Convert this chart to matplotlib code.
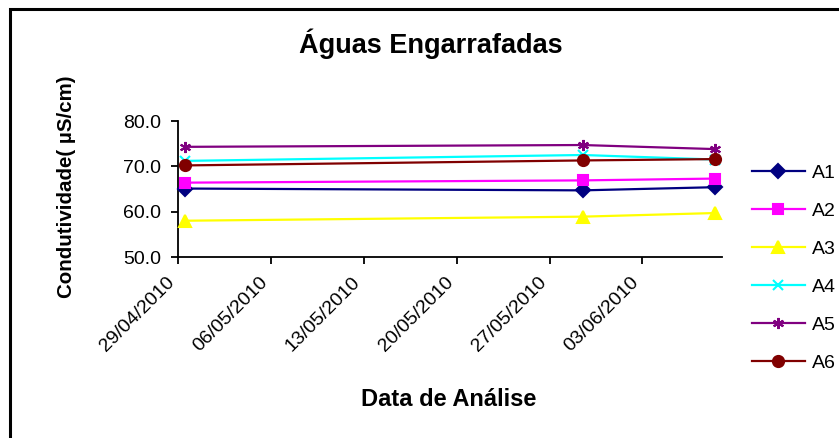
import matplotlib
matplotlib.use("Agg")
import matplotlib.pyplot as plt
import matplotlib.dates as mdates
from matplotlib.patches import Rectangle
import datetime as dt

plt.rcParams['font.family'] = ['Liberation Sans', 'DejaVu Sans']

# ---- data ----
dates = ["2010-04-29", "2010-05-29", "2010-06-08"]
series_names = ["A1", "A2", "A3", "A4", "A5", "A6"]
A1 = [65.1, 64.7, 65.4]
A2 = [66.4, 66.9, 67.3]
A3 = [58.0, 58.9, 59.7]
A4 = [71.2, 72.5, 71.5]
A5 = [74.3, 74.7, 73.8]
A6 = [70.2, 71.3, 71.6]
values = [A1, A2, A3, A4, A5, A6]
tick_dates = ["2010-04-29", "2010-05-06", "2010-05-13", "2010-05-20", "2010-05-27", "2010-06-03"]
x_start = "2010-04-29"
x_end = "2010-06-09"

colors = ["#000080", "#FF00FF", "#FFFF00", "#00FFFF", "#800080", "#800000"]
markers = ["D", "s", "^", "x", (6, 2, 0), "o"]
msizes = [7, 7.5, 9, 7, 8, 8]

W, H = 839, 438
fig = plt.figure(figsize=(W / 100, H / 100), dpi=100)
ax = fig.add_axes([178 / W, 1 - 257 / H, (722 - 178) / W, (257 - 121) / H])

def d(s):
    return mdates.date2num(dt.datetime.strptime(s, "%Y-%m-%d"))

xs = [d(s) + 0.5 for s in dates]
for name, vals, c, m, ms in zip(series_names, values, colors, markers, msizes):
    ax.plot(xs, vals, color=c, lw=1.6, marker=m, markersize=ms,
            markerfacecolor=c, markeredgecolor=c, markeredgewidth=1.5, label=name,
            clip_on=False, zorder=3)

ax.set_xlim(d(x_start), d(x_end))
ax.set_ylim(50, 80)
ax.set_yticks([50, 60, 70, 80])
ax.set_yticklabels([f"{v:.1f}" for v in [50, 60, 70, 80]], fontsize=14)
ax.set_xticks([d(s) for s in tick_dates])
ax.set_xticklabels([dt.datetime.strptime(s, "%Y-%m-%d").strftime("%d/%m/%Y") for s in tick_dates],
                   rotation=45, ha='right', va='top', fontsize=14)
for s in ['top', 'right']:
    ax.spines[s].set_visible(False)
for s in ['left', 'bottom']:
    ax.spines[s].set_linewidth(1.3)
ax.tick_params(axis='both', direction='out', length=5, width=1.3, pad=7)
ax.tick_params(axis='x', pad=7)

fig.text(431 / W, 1 - 44 / H, "Águas Engarrafadas", ha='center', va='center',
         fontsize=19.5, fontweight='bold')
fig.text(449 / W, 1 - 399 / H, "Data de Análise", ha='center', va='center',
         fontsize=17, fontweight='bold')
fig.text(67 / W, 1 - 187 / H, "Condutividade( µS/cm)", ha='center', va='center',
         rotation=90, fontsize=14.8, fontweight='bold')

leg = ax.legend(loc='upper left', bbox_to_anchor=(752 / W, 1 - 164 / H),
                bbox_transform=fig.transFigure, frameon=False, fontsize=14,
                handlelength=2.7, handletextpad=0.4, labelspacing=1.05,
                borderpad=0, borderaxespad=0)

fig.patches.append(Rectangle((10 / W, -0.1), 1.2, 1.1 - 9 / H, transform=fig.transFigure,
                             fill=False, edgecolor='black', linewidth=2.2, zorder=10))

fig.savefig("out.png", dpi=100)
